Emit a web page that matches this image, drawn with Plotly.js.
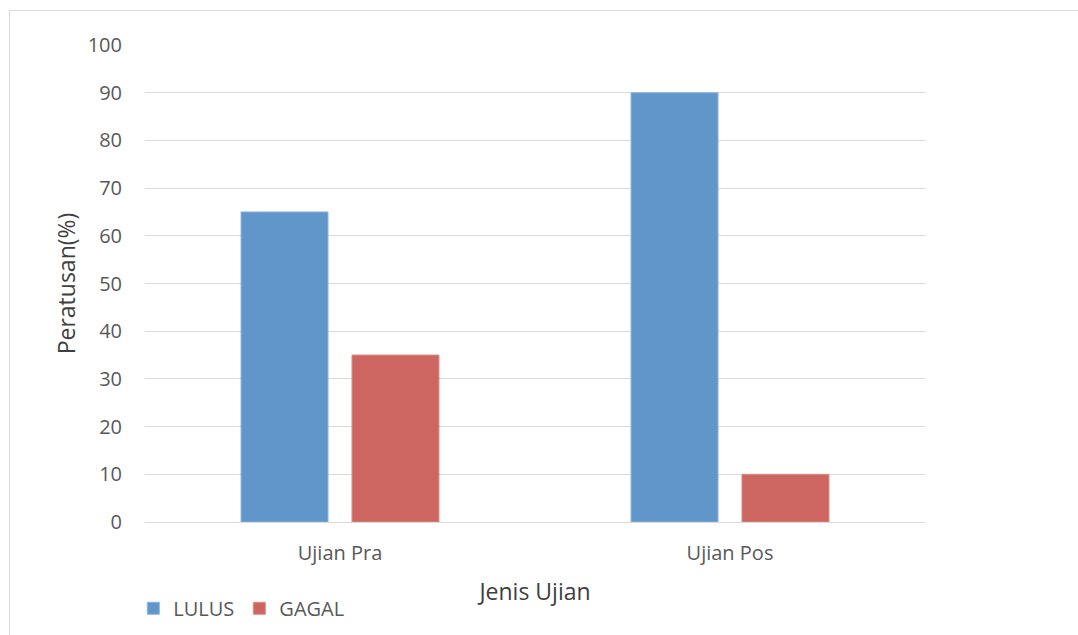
<!DOCTYPE html>
<html>
<head>
<meta charset="utf-8">
<script src="https://cdn.plot.ly/plotly-3.0.1.min.js"></script>
<style>
html,body{margin:0;padding:0;background:#fff;}
#frame{position:absolute;left:9px;top:10px;width:1200px;height:800px;border-left:1px solid #d9d9d9;border-top:1px solid #d9d9d9;pointer-events:none;z-index:10;}
#chart{width:1078px;height:635px;}
</style>
</head>
<body>
<div id="frame"></div>
<div id="chart"></div>
<script>
const categories = ["Ujian Pra", "Ujian Pos"];
const lulus = [65, 90];
const gagal = [35, 10];
const seriesNames = ["LULUS", "GAGAL"];
const tickVals = [0, 10, 20, 30, 40, 50, 60, 70, 80, 90, 100];

const tickFont = {family: "Open Sans, sans-serif", color: "#595959", size: 20};
const titleFont = {family: "Open Sans, sans-serif", color: "#404040", size: 23};

const traces = [
  {type: "bar", name: seriesNames[0], x: categories, y: lulus,
   marker: {color: "#6096CA", line: {color: "#8DB5E0", width: 1}}, hoverinfo: "y"},
  {type: "bar", name: seriesNames[1], x: categories, y: gagal,
   marker: {color: "#CD6660", line: {color: "#DE8B86", width: 1}}, hoverinfo: "y"}
];

const layout = {
  width: 1078, height: 635,
  margin: {l: 145, r: 153, t: 45, b: 113, autoexpand: false},
  paper_bgcolor: "#fff", plot_bgcolor: "#fff",
  font: tickFont,
  barmode: "group",
  bargap: 0.431,
  bargroupgap: 0.216,
  showlegend: true,
  legend: {orientation: "h", x: -0.015, xanchor: "left", y: -0.14, yanchor: "top",
           font: tickFont, itemwidth: 30, traceorder: "normal"},
  xaxis: {
    type: "category",
    title: {text: "Jenis Ujian", font: titleFont, standoff: 18},
    showgrid: false, showline: false, zeroline: false, ticks: "",
    tickfont: tickFont, automargin: false, ticklabelstandoff: 17
  },
  yaxis: {
    range: [0, 100], tickvals: tickVals, ticktext: tickVals.map(String),
    title: {text: "Peratusan(%)", font: titleFont, standoff: 5},
    showgrid: true, gridcolor: "#d9d9d9", gridwidth: 1,
    zeroline: true, zerolinecolor: "#d9d9d9", zerolinewidth: 1,
    showline: false, ticks: "", ticklen: 0, tickfont: tickFont, automargin: false,
    ticklabelstandoff: 22
  }
};

Plotly.newPlot("chart", traces, layout, {displayModeBar: false, staticPlot: true});
</script>
</body>
</html>
